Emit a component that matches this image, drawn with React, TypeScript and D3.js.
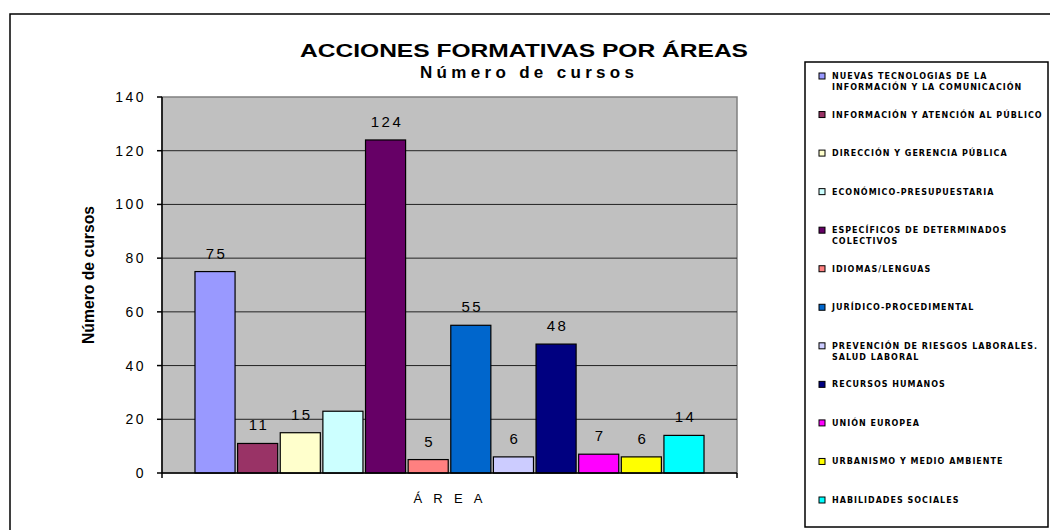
import React from "react";
import * as d3 from "d3";

const categories = ["ÁREA"];
const seriesNames = [
  "NUEVAS TECNOLOGIAS DE LA\nINFORMACIÓN Y LA COMUNICACIÓN",
  "INFORMACIÓN Y ATENCIÓN AL PÚBLICO",
  "DIRECCIÓN Y GERENCIA PÚBLICA",
  "ECONÓMICO-PRESUPUESTARIA",
  "ESPECÍFICOS DE DETERMINADOS\nCOLECTIVOS",
  "IDIOMAS/LENGUAS",
  "JURÍDICO-PROCEDIMENTAL",
  "PREVENCIÓN DE RIESGOS LABORALES.\nSALUD LABORAL",
  "RECURSOS HUMANOS",
  "UNIÓN EUROPEA",
  "URBANISMO Y MEDIO AMBIENTE",
  "HABILIDADES SOCIALES",
];
const values = [75, 11, 15, 23, 124, 5, 55, 6, 48, 7, 6, 14];
const dataLabels = ["75", "11", "15", "", "124", "5", "55", "6", "48", "7", "6", "14"];
const colors = [
  "#9999FF", "#993366", "#FFFFCC", "#CCFFFF", "#660066", "#FF8080",
  "#0066CC", "#CCCCFF", "#000080", "#FF00FF", "#FFFF00", "#00FFFF",
];
const yTicks = [0, 20, 40, 60, 80, 100, 120, 140];
const title = "ACCIONES FORMATIVAS POR ÁREAS";
const subtitle = "Número de cursos";
const yTitle = "Número de cursos";

export default function App() {
  const plot = { left: 162, right: 737, top: 97, bottom: 473 };
  const y = d3.scaleLinear().domain([0, 140]).range([plot.bottom, plot.top]);
  const x0 = d3
    .scaleBand<string>()
    .domain(categories)
    .range([plot.left, plot.right])
    .paddingInner(0)
    .paddingOuter(0.0648);
  const x1 = d3
    .scaleBand<string>()
    .domain(seriesNames)
    .range([0, x0.bandwidth()])
    .paddingInner(0.06)
    .paddingOuter(0);

  const legendY = d3
    .scaleLinear()
    .domain([0, seriesNames.length - 1])
    .range([76, 500]);

  const sans = "'Liberation Sans', Arial, sans-serif";

  return (
    <svg
      width={1050}
      height={530}
      style={{ position: "absolute", left: 0, top: 0, background: "#fff" }}
    >
      {/* chart frame */}
      <rect x={10} y={14} width={1100} height={600} fill="#fff" stroke="#000" strokeWidth={1.5} />

      {/* titles */}
      <text x={524} y={57} textAnchor="middle" fontFamily={sans} fontWeight="bold" fontSize={19}
        textLength={448} lengthAdjust="spacingAndGlyphs">{title}</text>
      <text x={527} y={78} textAnchor="middle" fontFamily={sans} fontWeight="bold" fontSize={17}
        textLength={214} lengthAdjust="spacing">{subtitle}</text>

      {/* plot area */}
      <rect x={plot.left} y={plot.top} width={plot.right - plot.left} height={plot.bottom - plot.top}
        fill="#C0C0C0" stroke="#808080" strokeWidth={1.5} />
      {yTicks.filter((t) => t > 0 && t < 140).map((t) => (
        <line key={t} x1={plot.left} x2={plot.right} y1={y(t)} y2={y(t)} stroke="#222" strokeWidth={1} />
      ))}

      {/* bars */}
      {categories.map((c) => (
        <g key={c} transform={`translate(${x0(c)},0)`}>
          {seriesNames.map((s, i) => (
            <rect key={s} x={x1(s)} y={y(values[i])} width={x1.bandwidth()} height={y(0) - y(values[i])}
              fill={colors[i]} stroke="#000" strokeWidth={1.2} />
          ))}
          {seriesNames.map((s, i) =>
            dataLabels[i] ? (
              <text key={s} x={(x1(s) as number) + x1.bandwidth() / 2 + 1.5} y={y(values[i]) - 13}
                textAnchor="middle" fontFamily={sans} fontSize={15} letterSpacing={2.5} fill="#000">
                {dataLabels[i]}
              </text>
            ) : null
          )}
        </g>
      ))}

      {/* axes */}
      <line x1={plot.left} x2={plot.left} y1={plot.top} y2={plot.bottom + 5} stroke="#000" strokeWidth={1.5} />
      <line x1={plot.left} x2={plot.right} y1={plot.bottom} y2={plot.bottom} stroke="#000" strokeWidth={1.5} />
      <line x1={plot.right} x2={plot.right} y1={plot.bottom} y2={plot.bottom + 5} stroke="#000" strokeWidth={1.5} />
      {yTicks.map((t) => (
        <g key={t}>
          <line x1={plot.left - 5} x2={plot.left} y1={y(t)} y2={y(t)} stroke="#000" strokeWidth={1.5} />
          <text x={146} y={y(t)} dy="0.36em" textAnchor="end" fontFamily={sans} fontSize={14}
            letterSpacing={2.5} fill="#000">{t}</text>
        </g>
      ))}
      <text x={448} y={503} textAnchor="middle" fontFamily={sans} fontSize={13}
        textLength={69} lengthAdjust="spacing">{categories[0]}</text>
      <text transform="translate(94,275) rotate(-90)" textAnchor="middle" fontFamily={sans}
        fontWeight="bold" fontSize={17} textLength={138} lengthAdjust="spacingAndGlyphs">{yTitle}</text>

      {/* legend */}
      <rect x={805} y={62} width={243} height={465} fill="#fff" stroke="#000" strokeWidth={1.5} />
      {seriesNames.map((s, i) => {
        const ly = legendY(i);
        const lines = s.split("\n");
        return (
          <g key={s}>
            <rect x={819} y={ly - 3} width={6} height={6} fill={colors[i]} stroke="#000" strokeWidth={1} />
            {lines.map((ln, j) => (
              <text key={j} x={832} y={ly + 3 + j * 11} fontFamily="'DejaVu Sans', sans-serif"
                fontWeight="bold" fontSize={8} letterSpacing={1} fill="#000">{ln}</text>
            ))}
          </g>
        );
      })}
    </svg>
  );
}
